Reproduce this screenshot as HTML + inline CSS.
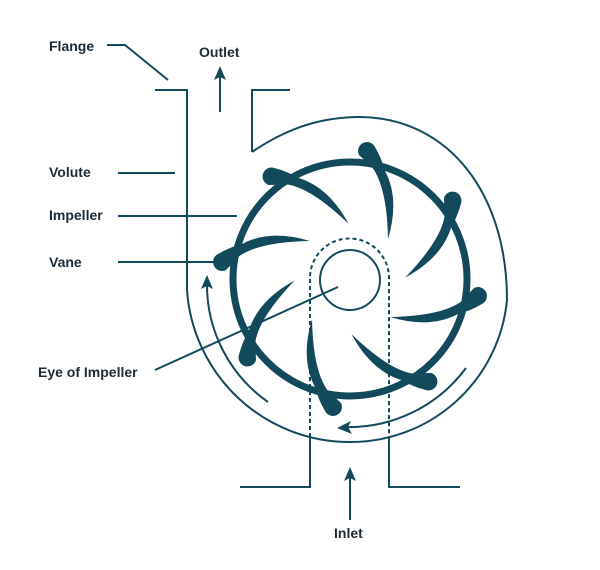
<!DOCTYPE html>
<html><head><style>
html,body{margin:0;padding:0;background:#fff;}
svg{display:block}
text{font-family:"Liberation Sans",sans-serif;font-size:14px;font-weight:bold;fill:#1c2b36}
</style></head><body>
<svg width="600" height="570" viewBox="0 0 600 570" xmlns="http://www.w3.org/2000/svg">
<defs>
<path id="vane" fill="#124a5c" d="M9,-124 A8 8 0 0 1 25,-132 Q32,-120 35,-108 Q50,-80 38,-40 Q37,-92 22,-112 Q15,-118 9,-124 Z"/>
</defs>
<g stroke="#124a5c" fill="none" stroke-width="2">
<path d="M155,90 H187 V290"/>
<path d="M290,90 H252 V152"/>
<path d="M252,152 C290,126 325,117 360,117 C450,118 507,195 507,300 A157 157 0 0 1 350 442 A163 163 0 0 1 187 290"/>
<path d="M240,487 H310 V437"/>
<path d="M460,487 H389 V437"/>
<path d="M310,437 V278 A39.5 39.5 0 0 1 389 278 V437" stroke-dasharray="4 3"/>
<circle cx="350" cy="280" r="30"/>
<line x1="220" y1="112" x2="220" y2="75"/>
<line x1="350" y1="520" x2="350" y2="477"/>
<path d="M268,402 A143 143 0 0 1 207 284"/>
<path d="M466,368 A146 146 0 0 1 343 427"/>
<circle cx="350" cy="279" r="117" stroke-width="7"/>
<path d="M107,45 H125 L168,80"/>
<line x1="118" y1="173" x2="175" y2="173"/>
<line x1="118" y1="216" x2="237" y2="216"/>
<line x1="118" y1="262" x2="215" y2="262"/>
<line x1="155" y1="370" x2="338" y2="287"/>
</g>
<g fill="#124a5c">
<path d="M220,66 L214,80 L220,77 L226,80 Z"/>
<path d="M350,467 L344,481 L350,478 L356,481 Z"/>
<path d="M207,275 L201,289 L207,286 L213,289 Z"/>
<path d="M337,428 L351,421 L348,427 L352,434 Z"/>
</g>
<g transform="translate(350,279)">
<use href="#vane"/>
<use href="#vane" transform="rotate(45)"/>
<use href="#vane" transform="rotate(90)"/>
<use href="#vane" transform="rotate(135)"/>
<use href="#vane" transform="rotate(180)"/>
<use href="#vane" transform="rotate(225)"/>
<use href="#vane" transform="rotate(270)"/>
<use href="#vane" transform="rotate(315)"/>
</g>
<text x="49" y="51">Flange</text>
<text x="199" y="57">Outlet</text>
<text x="49" y="177">Volute</text>
<text x="49" y="220">Impeller</text>
<text x="49" y="267">Vane</text>
<text x="38" y="377">Eye of Impeller</text>
<text x="334" y="538">Inlet</text>
</svg>
</body></html>
